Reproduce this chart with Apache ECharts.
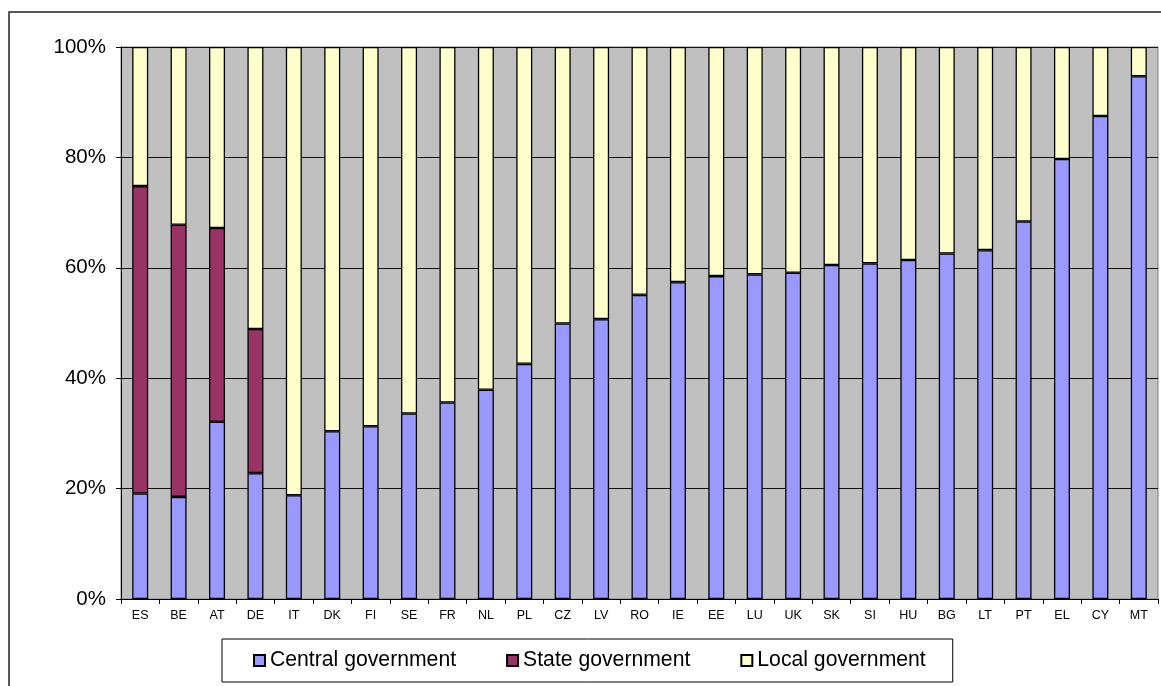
<!DOCTYPE html>
<html>
<head>
<meta charset="utf-8">
<title>Government levels</title>
<script src="https://cdn.jsdelivr.net/npm/echarts@6/dist/echarts.min.js"></script>
<style>
    html, body {
        margin: 0;
        padding: 0;
        background: #fff;
    }
    #chart {
        width: 1161px;
        height: 686px;
    }
</style>
</head>
<body>
<div id="chart"></div>
<script>
    // countries, sorted the same way as the source chart
    var countries = ['ES', 'BE', 'AT', 'DE', 'IT', 'DK', 'FI', 'SE', 'FR', 'NL', 'PL', 'CZ', 'LV', 'RO',
        'IE', 'EE', 'LU', 'UK', 'SK', 'SI', 'HU', 'BG', 'LT', 'PT', 'EL', 'CY', 'MT'];

    // shares in %
    var central = [19.1, 18.5, 32.1, 22.8, 18.8, 30.4, 31.3, 33.6, 35.6, 37.9, 42.6, 49.9, 50.7, 55.1,
        57.4, 58.5, 58.8, 59.1, 60.5, 60.8, 61.4, 62.6, 63.2, 68.4, 79.7, 87.5, 94.7];
    var state = [55.7, 49.3, 35.1, 26.1, null, null, null, null, null, null, null, null, null, null,
        null, null, null, null, null, null, null, null, null, null, null, null, null];
    var local = [25.2, 32.2, 32.8, 51.1, 81.2, 69.6, 68.7, 66.4, 64.4, 62.1, 57.4, 50.1, 49.3, 44.9,
        42.6, 41.5, 41.2, 40.9, 39.5, 39.2, 38.6, 37.4, 36.8, 31.6, 20.3, 12.5, 5.3];

    var yTicks = [0, 20, 40, 60, 80, 100];

    var font = 'Arial, "Liberation Sans", sans-serif';

    function bar(name, data, color) {
        return {
            name: name,
            type: 'bar',
            stack: 'total',
            barWidth: 16,
            data: data,
            itemStyle: {
                color: color,
                borderColor: '#000',
                borderWidth: 1.3
            }
        };
    }

    var chart = echarts.init(document.getElementById('chart'));
    chart.setOption({
        animation: false,
        textStyle: {fontFamily: font},
        graphic: [{
            type: 'rect',
            shape: {x: 9, y: 12, width: 1200, height: 720},
            style: {fill: 'none', stroke: '#222', lineWidth: 1.5},
            silent: true
        }],
        grid: {
            left: 121,
            right: 3,
            top: 47,
            bottom: 87,
            show: true,
            backgroundColor: '#C0C0C0',
            borderColor: '#808080',
            borderWidth: 1
        },
        legend: {
            left: 222,
            top: 639,
            padding: [11, 27, 11, 31],
            itemGap: 50,
            itemWidth: 11,
            itemHeight: 11,
            icon: 'rect',
            borderColor: '#000',
            borderWidth: 1,
            backgroundColor: '#fff',
            textStyle: {fontSize: 21.2, color: '#000', fontFamily: font},
            data: ['Central government', 'State government', 'Local government']
        },
        xAxis: {
            type: 'category',
            data: countries,
            axisLine: {lineStyle: {color: '#000', width: 1}},
            axisTick: {show: true, length: 5, lineStyle: {color: '#000'}},
            axisLabel: {fontSize: 12.5, color: '#000', margin: 10, interval: 0}
        },
        yAxis: {
            type: 'value',
            min: yTicks[0],
            max: yTicks[yTicks.length - 1],
            interval: 20,
            axisLine: {show: true, lineStyle: {color: '#000', width: 1}},
            axisTick: {show: true, length: 5, lineStyle: {color: '#000'}},
            axisLabel: {fontSize: 20.5, color: '#000', margin: 15, formatter: '{value}%'},
            splitLine: {show: true, lineStyle: {color: '#111', width: 1}}
        },
        series: [
            bar('Central government', central, '#9999FF'),
            bar('State government', state, '#993366'),
            bar('Local government', local, '#FFFFCC')
        ]
    });
</script>
</body>
</html>
